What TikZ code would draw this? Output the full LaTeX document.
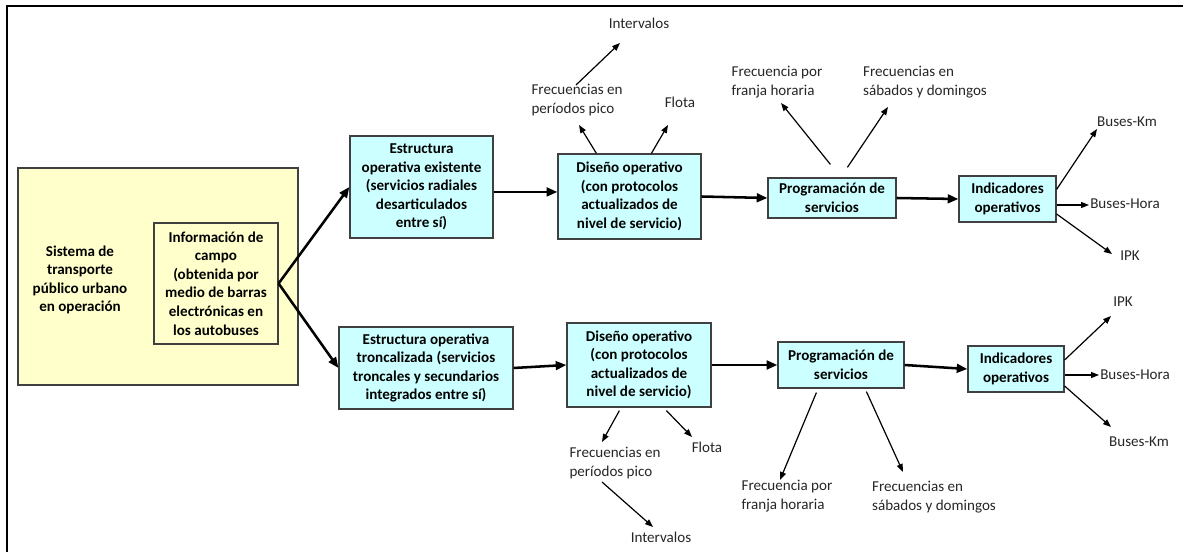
\documentclass[tikz,border=0pt]{standalone}
\usepackage{fontspec}
\setmainfont{Carlito}
\usetikzlibrary{arrows.meta}
\definecolor{boxcyan}{HTML}{CCFFFF}
\definecolor{boxyellow}{HTML}{FFFFCC}
\definecolor{boxline}{HTML}{404040}
\definecolor{labtext}{HTML}{262626}
\begin{document}
\begin{tikzpicture}[x=0.75pt,y=-0.75pt,
  box/.style={draw=boxline, line width=0.9pt, fill=boxcyan, align=center,
    font=\fontsize{11.3}{13.9}\selectfont\bfseries, inner sep=0pt},
  ybox/.style={box, fill=boxyellow},
  lab/.style={align=left, font=\fontsize{11.3}{13.9}\selectfont, text=labtext, inner sep=1pt},
  mainarrow/.style={line width=1.9pt, -{Triangle[length=8pt,width=6.5pt]}},
  outarrow/.style={line width=0.9pt, -{Triangle[length=6pt,width=4.5pt]}}]
\useasboundingbox (0,0) rectangle (1183,552);
% frame
\coordinate (fr1) at (7,552);
\coordinate (fr2) at (7,6);
\coordinate (fr3) at (1183,6);
\draw[line width=1pt] (fr1) -- (fr2) -- (fr3);

% left boxes
\node[ybox, minimum width=210pt, minimum height=162.75pt] (sys) at (158,276.5) {};
\node[font=\fontsize{11.3}{13.9}\selectfont\bfseries, align=center] (systxt) at (80,280)
  {Sistema de\\transporte\\público urbano\\en operación};
\node[ybox, minimum width=93pt, minimum height=90.75pt] (info) at (216,283.5)
  {Información de\\campo\\(obtenida por\\medio de barras\\electrónicas en\\los autobuses};

% top row
\node[box, minimum width=107.25pt, minimum height=76.5pt] (b1) at (421.5,187)
  {Estructura\\operativa existente\\(servicios radiales\\desarticulados\\entre sí)};
\node[box, minimum width=107.25pt, minimum height=63.75pt] (d1) at (629.5,196.5)
  {Diseño operativo\\(con protocolos\\actualizados de\\nivel de servicio)};
\node[box, minimum width=96pt, minimum height=30pt] (p1) at (832,198)
  {Programación de\\servicios};
\node[box, minimum width=72.75pt, minimum height=34.5pt] (i1) at (1007.5,199)
  {Indicadores\\operativos};

% bottom row
\node[box, minimum width=130.5pt, minimum height=61.5pt] (b2) at (426,368)
  {Estructura operativa\\troncalizada (servicios\\troncales y secundarios\\integrados entre sí)};
\node[box, minimum width=108pt, minimum height=63pt] (d2) at (639,365)
  {Diseño operativo\\(con protocolos\\actualizados de\\nivel de servicio)};
\node[box, minimum width=94.5pt, minimum height=34.5pt] (p2) at (841,365)
  {Programación de\\servicios};
\node[box, minimum width=72pt, minimum height=34.5pt] (i2) at (1016,369)
  {Indicadores\\operativos};

% main arrows
\draw[mainarrow] (info.east) -- (b1.west);
\draw[mainarrow] (info.east) -- (b2.west);
\draw[mainarrow] ([yshift=3.4pt]d1.west -| b1.east) -- ([yshift=3.4pt]d1.west);
\draw[mainarrow] (d1.east) -- (p1.west);
\draw[mainarrow] (p1.east) -- (i1.west);
\draw[mainarrow] (b2.east) -- (d2.west);
\draw[mainarrow] (d2.east) -- (p2.west);
\draw[mainarrow] (p2.east) -- (i2.west);

% top labels
\node[lab] (int1) at (639,23) {Intervalos};
\node[lab] (fpp1) at (577,100) {Frecuencias en\\períodos pico};
\node[lab] (flota1) at (680,102) {Flota};
\node[lab] (fh1) at (777,82) {Frecuencia por\\franja horaria};
\node[lab] (fs1) at (925,82) {Frecuencias en\\sábados y domingos};
\node[lab] (bk1) at (1127,122) {Buses-Km};
\node[lab] (bh1) at (1125,204) {Buses-Hora};
\node[lab] (ipk1) at (1130,256) {IPK};

% bottom labels
\node[lab] (fpp2) at (615,463) {Frecuencias en\\períodos pico};
\node[lab] (flota2) at (707,447) {Flota};
\node[lab] (int2) at (661,537) {Intervalos};
\node[lab] (fh2) at (787,496) {Frecuencia por\\franja horaria};
\node[lab] (fs2) at (934,497) {Frecuencias en\\sábados y domingos};
\node[lab] (ipk2) at (1123,302) {IPK};
\node[lab] (bh2) at (1135,375) {Buses-Hora};
\node[lab] (bk2) at (1139,442) {Buses-Km};

% arrow ends
\coordinate (e1) at (579,125);
\coordinate (e2) at (668,125);
\coordinate (s3) at (576,85);
\coordinate (e3) at (620,43);
\coordinate (e4) at (781,103);
\coordinate (e5) at (888,107);
\coordinate (e6) at (1097,129);
\coordinate (e7) at (1089,205);
\coordinate (e8) at (1112,254);
\coordinate (f1) at (602,442);
\coordinate (f2) at (692,437);
\coordinate (s13) at (602,482);
\coordinate (f3) at (653,527);
\coordinate (f4) at (780,480);
\coordinate (f5) at (903,472);
\coordinate (f6) at (1111,316);
\coordinate (f7) at (1099,375);
\coordinate (f8) at (1111,427);

% top output arrows
\draw[outarrow] ([xshift=29.25pt]d1.north west) -- (e1);
\draw[outarrow] ([xshift=70.5pt]d1.north west) -- (e2);
\draw[outarrow] (s3) -- (e3);
\draw[outarrow] ([xshift=47.25pt,yshift=9.75pt]p1.north west) -- (e4);
\draw[outarrow] ([xshift=60pt,yshift=7.5pt]p1.north west) -- (e5);
\draw[outarrow] ([yshift=-10.5pt]i1.north east) -- (e6);
\draw[outarrow] ([yshift=-4.5pt]i1.east) -- (e7);
\draw[outarrow] ([yshift=-11.25pt]i1.east) -- (e8);

% bottom output arrows
\draw[outarrow] ([xshift=39.75pt,yshift=-2.25pt]d2.south west) -- (f1);
\draw[outarrow] ([xshift=75pt,yshift=-2.25pt]d2.south west) -- (f2);
\draw[outarrow] (s13) -- (f3);
\draw[outarrow] ([xshift=29.25pt,yshift=-3pt]p2.south west) -- (f4);
\draw[outarrow] ([xshift=66.75pt,yshift=-2.25pt]p2.south west) -- (f5);
\draw[outarrow] ([yshift=6.75pt]i2.east) -- (f6);
\draw[outarrow] ([yshift=-4.5pt]i2.east) -- (f7);
\draw[outarrow] ([yshift=-12.75pt]i2.east) -- (f8);
\end{tikzpicture}
\end{document}
